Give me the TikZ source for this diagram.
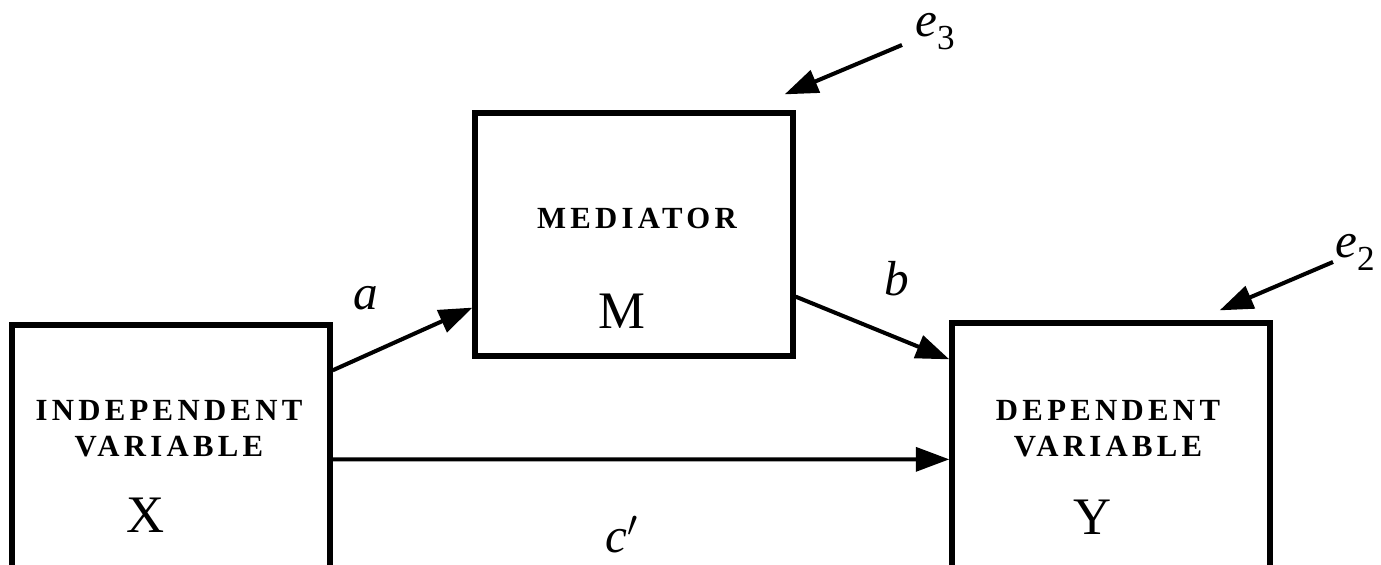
\documentclass[tikz,border=0pt]{standalone}
\usepackage{fontspec}
\setmainfont{Liberation Serif}
\newfontfamily\capsfont[LetterSpace=14]{Liberation Serif}
\usetikzlibrary{arrows.meta, positioning}
\newcommand{\errterm}[1]{\textit{e}\raisebox{-7pt}{\fontsize{20}{20}\selectfont #1}}

\begin{document}
\begin{tikzpicture}[
    varbox/.style={draw, line width=3pt, minimum width=6.36cm, inner sep=0pt},
    captext/.style={font=\capsfont\bfseries\fontsize{17.5}{20.5}\selectfont, align=center},
    symtext/.style={font=\fontsize{30}{34}\selectfont},
    pathlbl/.style={font=\fontsize{28}{32}\selectfont},
    effect/.style={line width=2.3pt, -{Triangle[length=19pt, width=13.5pt]}}]
    \clip (0,0) rectangle (27.62,11.3);
    % Boxes
    \node[varbox, minimum height=5.8cm] (X) at (3.42, 1.9) {};
    \node[varbox, minimum height=4.86cm] (M) at (12.68, 6.61) {};
    \node[varbox, minimum height=5.84cm] (Y) at (22.22, 1.92) {};
    % Box texts
    \node[captext] (Xcap) at (3.38, 2.72) {INDEPENDENT\\VARIABLE};
    \node[symtext] (Xsym) at (2.92, 1.0) {X};
    \node[captext] (Mcap) at (12.74, 6.94) {MEDIATOR};
    \node[symtext] (Msym) at (12.44, 5.08) {M};
    \node[captext] (Ycap) at (22.16, 2.72) {DEPENDENT\\VARIABLE};
    \node[symtext] (Ysym) at (21.86, 0.96) {Y};
    % Paths
    \draw[effect] ([yshift=-0.96cm]X.north east) -- ([yshift=1.02cm]M.south west);
    \draw[effect] ([yshift=1.24cm]M.south east) -- ([yshift=-0.78cm]Y.north west);
    \draw[effect] ([yshift=-2.74cm]X.north east) -- ([yshift=-2.78cm]Y.north west);
    \node[pathlbl] (alab) at (7.32, 5.34) {$\mathit{a}$};
    \node[pathlbl] (blab) at (17.94, 5.72) {$\mathit{b}$};
    \node[pathlbl] (clab) at (12.44, 0.6) {$\mathit{c}'$};
    % Error terms
    \coordinate (e3s) at (18.04, 10.4);
    \coordinate (e2s) at (26.66, 6.06);
    \draw[effect] (e3s) -- ([xshift=-0.22cm, yshift=0.32cm]M.north east);
    \draw[effect] (e2s) -- ([xshift=-1.06cm, yshift=0.2cm]Y.north east);
    \node[pathlbl, anchor=base west, inner sep=0pt] (e3lab) at (18.3, 10.56) {\errterm{3}};
    \node[pathlbl, anchor=base west, inner sep=0pt] (e2lab) at (26.7, 6.14) {\errterm{2}};
\end{tikzpicture}
\end{document}
